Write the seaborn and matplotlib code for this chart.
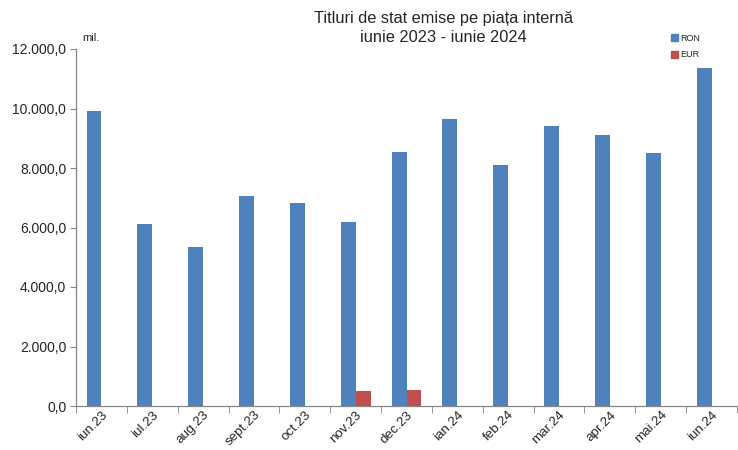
import pandas as pd
import seaborn as sns
import matplotlib.pyplot as plt
from matplotlib.ticker import FuncFormatter, FixedLocator

luni = ["iun.23", "iul.23", "aug.23", "sept.23", "oct.23", "nov.23", "dec.23",
        "ian.24", "feb.24", "mar.24", "apr.24", "mai.24", "iun.24"]
ron = [9900, 6120, 5350, 7070, 6810, 6200, 8550, 9650, 8100, 9420, 9120, 8520, 11350]
eur = [0, 0, 0, 0, 0, 490, 550, 0, 0, 0, 0, 0, 0]

df = pd.DataFrame({
    "luna": luni * 2,
    "valoare": ron + eur,
    "moneda": ["RON"] * len(luni) + ["EUR"] * len(luni),
})

sns.set_style("white")
plt.rcParams["font.family"] = ["Liberation Sans", "DejaVu Sans"]

fig = plt.figure(figsize=(7.38, 4.5), dpi=100)
ax = fig.add_axes([76 / 738, 1 - 406 / 450, 661 / 738, 357 / 450])

sns.barplot(data=df, x="luna", y="valoare", hue="moneda", order=luni,
            palette={"RON": "#4F81BD", "EUR": "#C0504D"}, saturation=1,
            width=0.586, gap=0, errorbar=None, linewidth=0, ax=ax, legend=False)

ax.set_ylim(0, 12000)
ax.set_xlim(-0.5, len(luni) - 0.5)
ax.set_yticks(range(0, 12001, 2000))
ax.yaxis.set_major_formatter(FuncFormatter(
    lambda v, p: f"{v:,.1f}".replace(",", "X").replace(".", ",").replace("X", ".")))
ax.set_xlabel("")
ax.set_ylabel("")

for s in ["top", "right"]:
    ax.spines[s].set_visible(False)
for s in ["left", "bottom"]:
    ax.spines[s].set_color("#868686")
    ax.spines[s].set_linewidth(0.9)

ax.tick_params(axis="y", left=True, length=4, color="#868686", labelsize=10, pad=3)
ax.tick_params(axis="x", which="major", length=0, labelsize=9.6, pad=2)
ax.xaxis.set_minor_locator(FixedLocator([i - 0.5 for i in range(len(luni) + 1)]))
ax.tick_params(axis="x", which="minor", bottom=True, length=5, color="#868686")
plt.setp(ax.get_xticklabels(), rotation=45, ha="right", rotation_mode="anchor")

fig.text(443 / 738, 1 - 18 / 450, "Titluri de stat emise pe piața internă",
         ha="center", va="center", fontsize=11.8)
fig.text(443 / 738, 1 - 38 / 450, "iunie 2023 - iunie 2024",
         ha="center", va="center", fontsize=11.8)
fig.text(82 / 738, 1 - 38 / 450, "mil.", ha="left", va="center", fontsize=8)

h_ron = plt.Rectangle((0, 0), 1, 1, color="#4F81BD")
h_eur = plt.Rectangle((0, 0), 1, 1, color="#C0504D")
fig.legend([h_ron, h_eur], ["RON", "EUR"], loc="upper left",
           bbox_to_anchor=(667 / 738, 1 - 30 / 450), frameon=False,
           fontsize=6.5, handlelength=0.8, handleheight=0.8,
           handletextpad=0.3, labelspacing=0.85, borderaxespad=0)

fig.savefig("out.png", dpi=100)
